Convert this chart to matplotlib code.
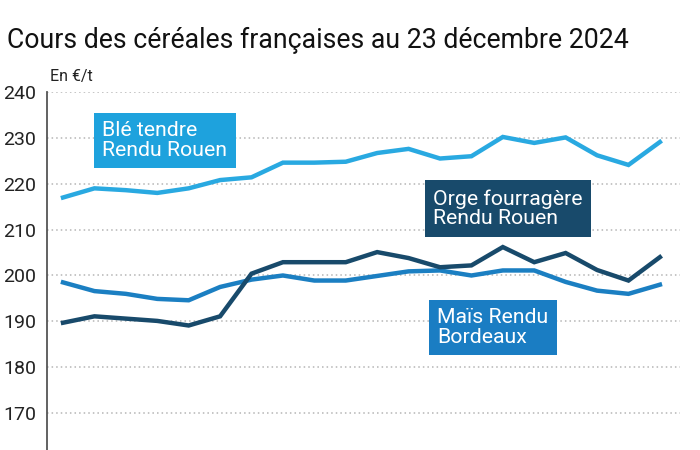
import matplotlib.pyplot as plt

# cours hebdo, en euros par tonne
semaines = list(range(20))
ble = [217.0, 219.0, 218.6, 218.0, 219.0, 220.8, 221.4, 224.6, 224.6, 224.8,
       226.7, 227.6, 225.5, 226.0, 230.2, 228.9, 230.1, 226.2, 224.1, 229.1]
mais = [198.5, 196.6, 196.0, 194.9, 194.6, 197.5, 199.1, 200.0, 198.9, 198.9,
        199.9, 200.9, 201.1, 200.0, 201.1, 201.1, 198.6, 196.7, 196.0, 198.0]
orge = [189.7, 191.1, 190.6, 190.1, 189.1, 191.1, 200.4, 202.9, 202.9, 202.9,
        205.1, 203.8, 201.8, 202.2, 206.2, 202.9, 204.9, 201.2, 198.9, 204.0]
yticks = [170, 180, 190, 200, 210, 220, 230, 240]

c_ble = '#29a9e1'
c_mais = '#1b7fc2'
c_orge = '#184a6b'

plt.rcParams['font.family'] = ['Roboto', 'DejaVu Sans']

fig = plt.figure(figsize=(7, 4.5), dpi=100)
ax = fig.add_axes([47/700, 0, 633/700, 1 - 92/450])

for y in yticks:
    ax.axhline(y, color='#b5b5b5', lw=1.1, ls=(0, (1, 2)), zorder=1)

ax.plot(semaines, ble, color=c_ble, lw=3.2, solid_joinstyle='miter', zorder=3)
ax.plot(semaines, mais, color=c_mais, lw=3.2, solid_joinstyle='miter', zorder=3)
ax.plot(semaines, orge, color=c_orge, lw=3.2, solid_joinstyle='miter', zorder=4)

ax.set_xlim(-0.51, 19.64)
ax.set_ylim(161.96, 240)
ax.set_yticks(yticks)
ax.set_xticks([])
ax.tick_params(axis='y', length=0, pad=8, labelsize=14, labelcolor='#222222')
for s in ['top', 'right', 'bottom']:
    ax.spines[s].set_visible(False)
ax.spines['left'].set_color('#555555')
ax.spines['left'].set_linewidth(1.3)

fig.text(7/700, 1 - 40/450, 'Cours des céréales françaises au 23 décembre 2024',
         fontsize=19.2, color='#111111', va='center', ha='left')
fig.text(50/700, 1 - 76/450, 'En €/t', fontsize=11.5, color='#222222',
         va='center', ha='left')

def etiquette(x, y, txt, coul):
    fig.text(x/700, 1 - y/450, txt, fontsize=15.3, color='white', ha='left',
             va='top', linespacing=1.05,
             bbox=dict(boxstyle='square,pad=0.4', fc=coul, ec='none'))

etiquette(102, 121, 'Blé tendre\nRendu Rouen', '#1ea2dd')
etiquette(433, 189, 'Orge fourragère\nRendu Rouen', c_orge)
etiquette(437, 308, 'Maïs Rendu\nBordeaux', '#1a7dc3')

fig.savefig('out.png', dpi=100)
